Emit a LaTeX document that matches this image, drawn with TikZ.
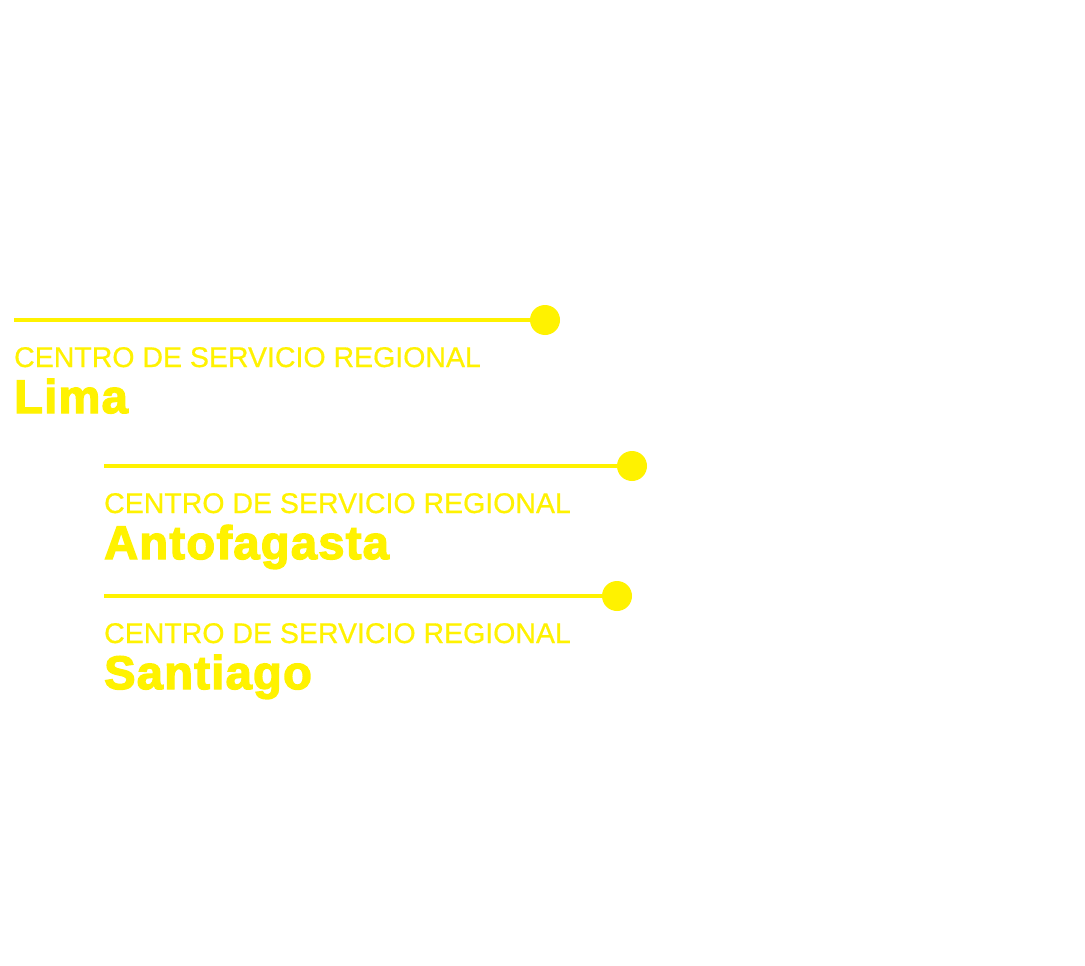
\documentclass[tikz,border=0pt]{standalone}
\usepackage{fontspec}
\setmainfont{Liberation Sans}
\newfontfamily\heavyfont[FakeBold=3,LetterSpace=2.8]{Liberation Sans Bold}
\newfontfamily\labelfont[FakeBold=0.6]{Liberation Sans}
\definecolor{ylw}{HTML}{FFF200}
\tikzset{
  dotnode/.style={circle, fill=ylw, draw=none, minimum size=30pt, inner sep=0pt},
  linkline/.style={draw=ylw, line width=4pt},
  smalltext/.style={anchor=base west, inner sep=0pt, text=ylw, font=\labelfont\fontsize{28.5}{30}\selectfont},
  bigtext/.style={anchor=base west, inner sep=0pt, text=ylw, font=\heavyfont\fontsize{47}{50}\selectfont}
}
\begin{document}
\begin{tikzpicture}[x=1pt,y=-1pt]
\useasboundingbox[fill=white] (0,0) rectangle (1085,966);
% Lima
\coordinate (s1) at (14,320);
\node[dotnode] (d1) at (545,320) {};
\draw[linkline] (s1) -- (d1.center);
\node[smalltext] (t1) at (14,367) {CENTRO DE SERVICIO REGIONAL};
\node[bigtext] (n1) at (14,413) {Lima};
% Antofagasta
\coordinate (s2) at (104,466);
\node[dotnode] (d2) at (632,466) {};
\draw[linkline] (s2) -- (d2.center);
\node[smalltext] (t2) at (104,513) {CENTRO DE SERVICIO REGIONAL};
\node[bigtext] (n2) at (104,559) {Antofagasta};
% Santiago
\coordinate (s3) at (104,596);
\node[dotnode] (d3) at (617,596) {};
\draw[linkline] (s3) -- (d3.center);
\node[smalltext] (t3) at (104,643) {CENTRO DE SERVICIO REGIONAL};
\node[bigtext] (n3) at (104,689) {Santiago};
\end{tikzpicture}
\end{document}
